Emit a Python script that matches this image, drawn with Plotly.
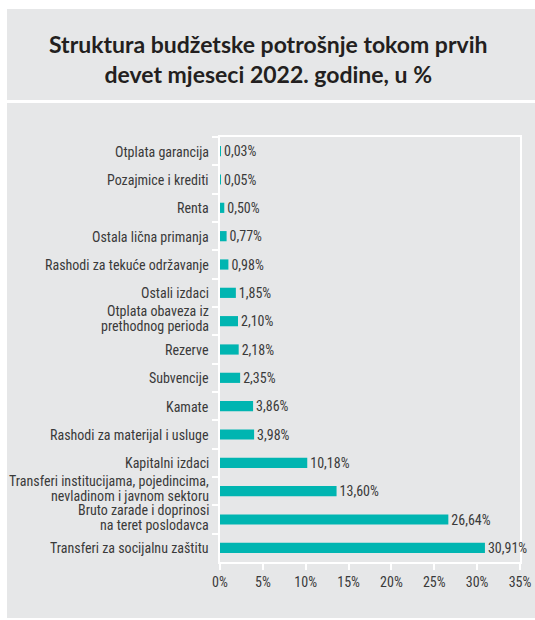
import plotly.graph_objects as go

categories = [
    "Otplata garancija",
    "Pozajmice i krediti",
    "Renta",
    "Ostala lična primanja",
    "Rashodi za tekuće održavanje",
    "Ostali izdaci",
    "Otplata obaveza iz<br>prethodnog perioda",
    "Rezerve",
    "Subvencije",
    "Kamate",
    "Rashodi za materijal i usluge",
    "Kapitalni izdaci",
    "Transferi institucijama, pojedincima,<br>nevladinom i javnom sektoru",
    "Bruto zarade i doprinosi<br>na teret poslodavca",
    "Transferi za socijalnu zaštitu",
]
values = [0.03, 0.05, 0.50, 0.77, 0.98, 1.85, 2.10, 2.18, 2.35, 3.86, 3.98, 10.18, 13.60, 26.64, 30.91]
x_ticks = [0, 5, 10, 15, 20, 25, 30, 35]
x_tick_labels = [f"{v}%" for v in x_ticks]

W, H = 535, 620
L, R, T, B = 220, 520, 137, 562
GRAY = "#e6e7e8"
TEAL = "#00b5b1"
TXT = "#3a3a3a"
FONT = "Roboto Condensed, DejaVu Sans Condensed, sans-serif"
FS = 14

def px(x):
    return (x - L) / (R - L)

def py(y):
    return (B - y) / (B - T)

fig = go.Figure(go.Bar(
    x=values, y=categories, orientation="h",
    marker=dict(color=TEAL, line=dict(width=0)),
    texttemplate="%{x:.2f}%", textposition="outside", cliponaxis=False,
    constraintext="none",
    textfont=dict(family=FONT, size=FS, color=TXT),
    hoverinfo="skip",
))

shapes = [
    dict(type="rect", xref="paper", yref="paper", x0=px(7), x1=px(560), y0=py(100), y1=py(9),
         fillcolor=GRAY, line=dict(width=0), layer="below"),
    dict(type="rect", xref="paper", yref="paper", x0=px(7), x1=px(560), y0=py(618), y1=py(103),
         fillcolor=GRAY, line=dict(width=0), layer="below"),
]

annotations = [dict(
    text="<b>Struktura budžetske potrošnje tokom prvih<br>devet mjeseci 2022. godine, u %</b>",
    xref="paper", yref="paper", x=px(268), y=py(59), xanchor="center", yanchor="middle",
    showarrow=False, font=dict(family="Lato, Open Sans, sans-serif", size=23, color="#231f20"),
)]

# y-axis category labels, drawn line by line for a tight line spacing
LINE_GAP = 15
for cat in categories:
    lines = cat.split("<br>")
    n = len(lines)
    lift = 2.5 if n > 1 else -0.5
    for i, line in enumerate(lines):
        shift = ((n - 1) / 2 - i) * LINE_GAP + lift
        annotations.append(dict(
            text=line, xref="paper", yref="y", x=0, y=cat, xanchor="right", yanchor="middle",
            xshift=-9, yshift=shift, showarrow=False,
            font=dict(family=FONT, size=FS, color=TXT),
        ))

fig.update_layout(
    width=W, height=H,
    margin=dict(l=L, r=W - R, t=T, b=H - B, pad=0, autoexpand=False),
    paper_bgcolor="white", plot_bgcolor=GRAY,
    separators=",.",
    showlegend=False,
    bargap=0.64,
    shapes=shapes,
    font=dict(family=FONT, size=FS, color=TXT),
    annotations=annotations,
)
fig.update_xaxes(
    range=[0, 35], tickmode="array", tickvals=x_ticks, ticktext=x_tick_labels,
    showgrid=False, zeroline=False, layer="below traces",
    showline=True, linecolor="white", linewidth=2, mirror=True, automargin=False,
    ticks="outside", tickcolor="white", ticklen=6, tickwidth=2,
    tickfont=dict(family=FONT, size=FS, color=TXT),
)
fig.update_yaxes(
    autorange="reversed", showgrid=False, zeroline=False, showticklabels=False,
    layer="below traces",
    showline=True, linecolor="white", linewidth=2, mirror=True, automargin=False,
    ticks="outside", tickson="boundaries", tickcolor="white", ticklen=6, tickwidth=2,
)

fig.write_html(
    "out.html",
    config={"displayModeBar": False},
    post_script="document.body.style.margin='0';document.body.style.overflow='hidden';",
)
